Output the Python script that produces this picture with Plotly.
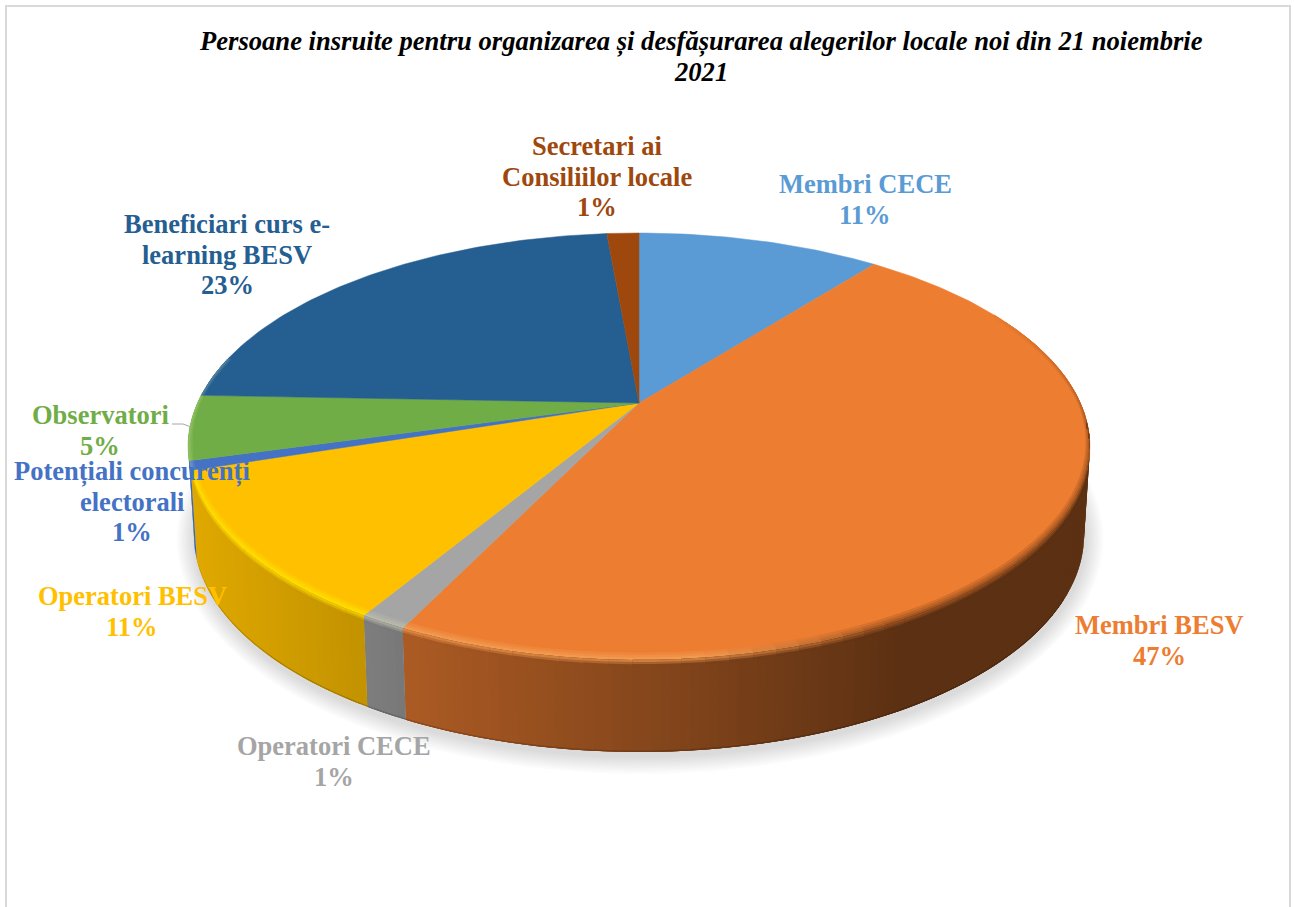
import numpy as np
import plotly.graph_objects as go

# ---- data ----
categories = ["Membri CECE", "Membri BESV", "Operatori CECE", "Operatori BESV",
              "Potențiali concurenți electorali", "Observatori",
              "Beneficiari curs e-learning BESV", "Secretari ai Consiliilor locale"]
values = [10.6, 46.6, 1.4, 11.4, 0.7, 4.9, 23.0, 1.4]
title_lines = ["Persoane insruite pentru organizarea și desfășurarea alegerilor locale noi din 21 noiembrie", "2021"]

# ---- styles ----
colors = ["#5B9BD5", "#ED7D31", "#A5A5A5", "#FFC000", "#4472C4", "#70AD47", "#255E91", "#9E480E"]
label_lines = [["Membri CECE"], ["Membri BESV"], ["Operatori CECE"], ["Operatori BESV"],
               ["Potențiali concurenți", "electorali"], ["Observatori"],
               ["Beneficiari curs e-", "learning BESV"], ["Secretari ai", "Consiliilor locale"]]
label_anchor = [(865, 184), (1159, 625), (334, 746), (132, 596), (132, 471), (100, 415), (227, 224), (597, 146)]
LINE_H = 30.5
FONT = "Liberation Serif"
FS = 26.5

# ---- projection of the tilted disc ----
CX, CY, A, B, K = 639.0, 403.0, 0.2037, 204.6, 441.5
ELL_CY, ELL_RY = 446.5, 213.5
BOT_CY, BOT_RY, BOT_SX = 535.0, 217.0, 0.987


def top(theta, r=1.0):
    X, Z = r * np.sin(theta), r * np.cos(theta)
    d = 1 + A * Z
    return CX + K * X / d, CY - B * Z / d


def low(theta, frac=1.0):
    x, y = top(theta)
    bx = CX + BOT_SX * (x - CX)
    by = BOT_CY + (y - ELL_CY) * BOT_RY / ELL_RY
    return x + (bx - x) * frac, y + (by - y) * frac


def rgb(c):
    return tuple(int(c[i:i + 2], 16) for i in (1, 3, 5))


def css(c):
    return "rgb(%d,%d,%d)" % tuple(np.clip(np.round(c), 0, 255))


def mult(x):
    return np.interp(x, [188, 365, 410, 700, 900, 1090], [.88, .76, .72, .53, .39, .39])


fig = go.Figure()


def poly(xs, ys, color, lw=0.0, line=None):
    fig.add_trace(go.Scatter(x=list(xs), y=list(ys), mode="lines", fill="toself", fillcolor=color,
                             line=dict(color=line or color, width=lw), hoverinfo="skip", showlegend=False))


def band(xa, ya, xb, yb, color):
    poly(np.r_[xa, xb[::-1], xa[0]], np.r_[ya, yb[::-1], ya[0]], color)


fractions = np.array(values) / sum(values)
edges = np.concatenate([[0], np.cumsum(fractions)]) * 2 * np.pi

# soft shadow below the disc
full = np.linspace(0, 2 * np.pi, 241)
for grow in range(18, 0, -2):
    bx, by = low(full)
    sx = CX + 1 + (bx - CX) * (1 + grow / 445)
    sy = BOT_CY + 4 + (by - BOT_CY) * (1 + grow / 217)
    poly(sx, sy, "rgba(110,110,110,0.028)", line="rgba(0,0,0,0)")

# side wall, painted strip over strip so that no seams show
WALL = (np.radians(96), np.radians(255))
for i, col in enumerate(colors):
    a0, a1 = max(edges[i], WALL[0]), min(edges[i + 1], WALL[1])
    if a1 <= a0:
        continue
    n = max(2, int(np.degrees(a1 - a0)) + 1)
    th = np.linspace(a0, a1, n)
    base = np.array(rgb(col), float)
    for k in range(n - 1):
        sub = np.linspace(th[k], th[min(k + 2, n - 1)], 4)
        tx, ty = top(sub)
        bx, by = low(sub)
        band(tx, ty, bx, by, css(base * mult(top(th[k:k + 2])[0].mean())))
        xe, ye = low(sub, 0.985)
        band(xe, ye, bx, by, css(base * mult(tx.mean()) * 0.82))

# top face
for i, col in enumerate(colors):
    th = np.linspace(edges[i], edges[i + 1], max(3, int(np.degrees(edges[i + 1] - edges[i])) + 2))
    x, y = top(th)
    poly(np.r_[CX, x, CX], np.r_[CY, y, CY], col, lw=0.5)

# bevel along the rim
STEPS = 3
RIM = (np.radians(62), np.radians(283))
for i, col in enumerate(colors):
    a0, a1 = max(edges[i], RIM[0]), min(edges[i + 1], RIM[1])
    if a1 <= a0:
        continue
    n = max(2, int(np.degrees(a1 - a0) / 2.5) + 1)
    th = np.linspace(a0, a1, n)
    base = np.array(rgb(col), float)
    for m in range(n - 1):
        sub = np.linspace(th[m], th[min(m + 2, n - 1)], 4)
        tm = (th[m] + th[m + 1]) / 2
        xm = top(np.array([tm]))[0][0]
        wall = base * mult(xm)
        lift = np.interp(xm, [188, 700, 880, 1090], [1, 1, 0, 0])
        dark = (base + wall) / 2
        light = base + (np.array([255, 255, 190.]) - base) * 0.22
        if col == "#FFC000":
            light = np.array([255, 220, 0.])
        peak = dark + (light - dark) * lift
        fade = np.interp(np.degrees(tm), [60, 100], [0, 1])
        peak = base + (peak - base) * fade
        width = 0.006 + 0.016 * abs(np.cos(tm))
        rs = np.linspace(1 - width, 1.0, STEPS + 1)
        oute = top(sub, 1.0)
        for k in range(STEPS):
            c = base + (peak - base) * (k + 1) / STEPS
            inner = top(sub, rs[k])
            band(inner[0], inner[1], oute[0], oute[1], css(c))
        if WALL[0] <= tm <= WALL[1]:
            ds = np.linspace(0, 0.07, STEPS + 1)
            for k in range(STEPS, 0, -1):
                c = peak + (wall - peak) * k / STEPS
                x1, y1 = low(sub, ds[k])
                band(oute[0], oute[1], x1, y1, css(c))

# leader line for Observatori
mid = (edges[5] + edges[6]) / 2
rim_x, rim_y = top(np.array([mid]), 1.0)
fig.add_trace(go.Scatter(x=[172, 183, rim_x[0] + 2], y=[424, 424, rim_y[0] + 0], mode="lines",
                         line=dict(color="#A6A6A6", width=1), hoverinfo="skip", showlegend=False))

# texts
for i, lines in enumerate(label_lines):
    ax, ay = label_anchor[i]
    for j, txt in enumerate(lines + [f"{round(values[i] / sum(values) * 100)}%"]):
        fig.add_annotation(x=ax, y=ay + j * LINE_H, text=f"<b>{txt}</b>", showarrow=False, xanchor="center",
                           yanchor="middle", font=dict(family=FONT, size=FS, color=colors[i]))
for j, (txt, pos) in enumerate(zip(title_lines, [(700.5, 41), (700.5, 72)])):
    fig.add_annotation(x=pos[0], y=pos[1], text=f"<b><i>{txt}</i></b>", showarrow=False, xanchor="center",
                       yanchor="middle", font=dict(family=FONT, size=26.6, color="#000000"))

fig.update_layout(
    width=1295, height=907, margin=dict(l=0, r=0, t=0, b=0), paper_bgcolor="white", plot_bgcolor="white",
    showlegend=False, hovermode=False,
    xaxis=dict(range=[0, 1295], visible=False, fixedrange=True),
    yaxis=dict(range=[907, 0], visible=False, fixedrange=True),
    shapes=[dict(type="path", path="M 6 920 L 6 6 L 1290 6 L 1290 920", line=dict(color="#D9D9D9", width=2),
                 xref="x", yref="y")],
)
fig.write_html("out.html", post_script="document.body.style.margin='0';document.body.style.overflow='hidden';",
               config=dict(displayModeBar=False))
